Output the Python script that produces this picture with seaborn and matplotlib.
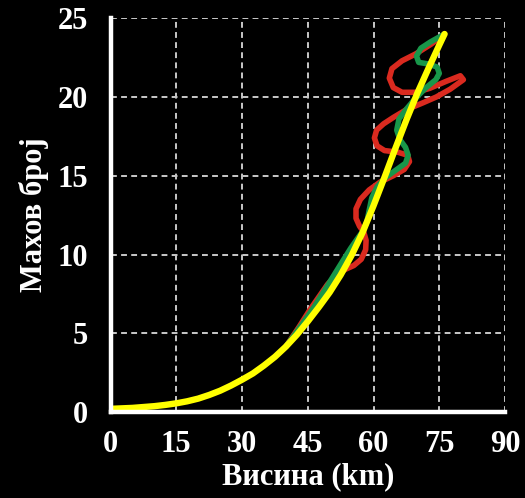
import matplotlib
matplotlib.use("Agg")
import matplotlib.pyplot as plt
import pandas as pd
import seaborn as sns

# Axis ticks
x_ticks = [0, 15, 30, 45, 60, 75, 90]
y_ticks = [0, 5, 10, 15, 20, 25]
x_label = "Висина (km)"
y_label = "Махов број"

# Reference (smooth) trajectory: altitude (km) vs Mach number
yellow_alt = [0, 5, 10, 12.5, 15, 17.5, 20, 22.5, 25, 27.5, 30, 32.5, 35, 37.5, 40, 42.5,
              45, 47.5, 50, 52.5, 55, 57.5, 60, 62.5, 65, 67.5, 70, 72.5, 75, 76.2]
yellow_mach = [0.2, 0.26, 0.37, 0.45, 0.55, 0.68, 0.85, 1.08, 1.35, 1.68, 2.05, 2.45, 2.95,
               3.5, 4.15, 4.9, 5.75, 6.65, 7.6, 8.7, 9.95, 11.4, 13.1, 14.9, 16.75, 18.55,
               20.25, 21.8, 23.3, 24.0]

# Flight trajectory with moderate oscillations
green_alt = [40, 43.5, 46.5, 49, 51, 53, 54.8, 56.3, 57.6, 58.5, 59.0, 59.6, 60.8, 62.8,
             65.3, 67.3, 67.9, 67.3, 66.0, 65.3, 65.8, 67.4, 69.5, 72, 74.2, 75.0, 74.5,
             72.5, 70.3, 69.8, 70.8, 73, 76.2]
green_mach = [4.15, 5.5, 6.7, 7.8, 8.7, 9.6, 10.4, 11.0, 11.5, 12.1, 12.8, 13.6, 14.3, 14.9,
              15.4, 15.8, 16.3, 16.8, 17.3, 17.9, 18.6, 19.2, 19.9, 20.6, 21.1, 21.5, 21.9,
              22.1, 22.2, 22.6, 23.1, 23.5, 24.0]

# Flight trajectory with strong oscillations
red_alt = [40, 43, 45.5, 47.5, 49.5, 51.5, 53.5, 55.5, 57.2, 58.2, 58.3, 57.8, 56.8, 56.0,
           56.0, 57.0, 59, 61.5, 64.5, 67.0, 68.2, 67.8, 65.5, 62.5, 60.8, 60.2, 60.7,
           62.3, 64.5, 67.5, 71, 74.3, 77.5, 80.5, 79.8, 76.6, 72.8, 69.7, 66.5, 64.5,
           63.6, 64.2, 66.5, 69.7, 73.1, 76.2]
red_mach = [4.15, 5.4, 6.5, 7.3, 8.1, 8.7, 9.05, 9.3, 9.7, 10.3, 10.9, 11.4, 11.8, 12.3,
            12.9, 13.5, 14.1, 14.6, 15.0, 15.4, 15.9, 16.3, 16.5, 16.6, 16.9, 17.4, 17.9,
            18.3, 18.7, 19.2, 19.6, 20.0, 20.5, 21.1, 21.35, 21.0, 20.55, 20.3, 20.3, 20.6,
            21.2, 21.8, 22.3, 22.75, 23.35, 24.0]

sns.set_theme(style="ticks")
plt.rcParams["font.family"] = ["Liberation Serif", "DejaVu Serif"]
plt.rcParams["font.weight"] = "bold"

fig = plt.figure(figsize=(5.25, 4.98), dpi=100, facecolor="black")
ax = fig.add_axes([0.2105, 0.1727, 0.7515, 0.7906])
ax.set_facecolor("black")

series = [
    (red_alt, red_mach, "#da2a1f", 4.0),
    (green_alt, green_mach, "#18974a", 4.0),
    (yellow_alt, yellow_mach, "#ffff00", 4.6),
]
for alt, mach, color, lw in series:
    df = pd.DataFrame({"alt": alt, "mach": mach})
    sns.lineplot(data=df, x="alt", y="mach", sort=False, estimator=None,
                 color=color, lw=lw, ax=ax, solid_joinstyle="round",
                 solid_capstyle="round", zorder=3)

ax.set_xlim(0, 90)
ax.set_ylim(0, 25)
ax.set_xticks(x_ticks)
ax.set_yticks(y_ticks)
ax.set_xticklabels([str(t) for t in x_ticks])
ax.set_yticklabels([str(t) for t in y_ticks])

ax.grid(True, color="#c8c8c8", linestyle=(0, (3, 2.2)), lw=1.4)
ax.set_axisbelow(True)

for side in ("top", "right"):
    ax.spines[side].set_visible(False)
for side in ("left", "bottom"):
    ax.spines[side].set_color("white")
    ax.spines[side].set_linewidth(3.2)
    ax.spines[side].set_zorder(4)

ax.tick_params(axis="x", length=0, pad=13, labelsize=22, labelcolor="white")
ax.tick_params(axis="y", length=0, pad=16, labelsize=22, labelcolor="white")
for lab in ax.get_xticklabels() + ax.get_yticklabels():
    lab.set_fontweight("bold")

ax.set_xlabel(x_label, fontsize=22, fontweight="bold", color="white", labelpad=2)
ax.set_ylabel(y_label, fontsize=22, fontweight="bold", color="white", labelpad=6)

fig.savefig("out.png", dpi=100, facecolor="black")
